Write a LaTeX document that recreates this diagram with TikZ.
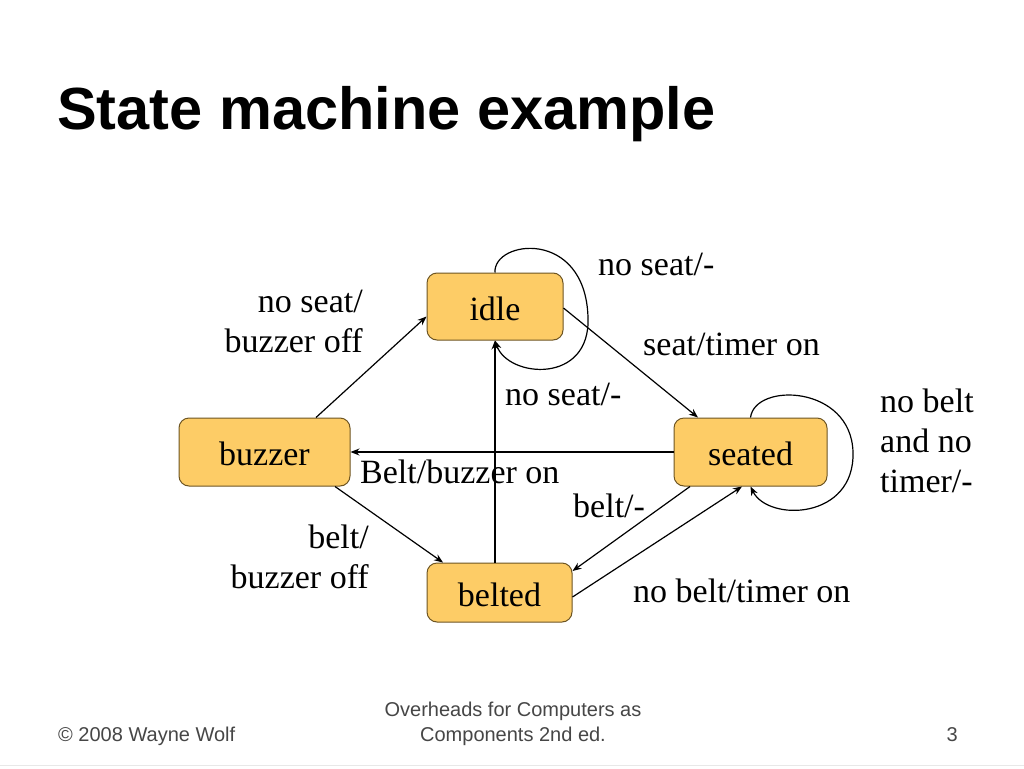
\documentclass[tikz,border=0pt]{standalone}
\usepackage{fontspec}
\setmainfont{Liberation Serif}
\newfontfamily\arialfont{Liberation Sans}
\usetikzlibrary{arrows.meta,calc}
\definecolor{statefill}{RGB}{253,204,102}
\definecolor{stateborder}{RGB}{110,85,35}
\definecolor{footgrey}{RGB}{70,70,70}
\definecolor{footline}{RGB}{232,232,232}
\begin{document}
\begin{tikzpicture}[x=1pt,y=-1pt,
  statebox/.style={draw=stateborder,fill=statefill,rounded corners=10pt,line width=1pt,
    inner sep=0pt,font=\fontsize{34}{40}\selectfont},
  lbl/.style={inner sep=0pt,font=\fontsize{34}{40}\selectfont},
  foot/.style={inner sep=0pt,font=\arialfont\fontsize{20}{25}\selectfont,text=footgrey},
  conn/.style={line width=1.2pt,-{Stealth[length=9pt,width=7pt]}}]
\useasboundingbox[fill=white] (0,0) rectangle (1024,768);
% title
\node[inner sep=0pt,anchor=base west,font=\arialfont\bfseries\fontsize{59.5}{70}\selectfont] (title) at (57,129) {State machine example};
% states
\node[statebox,minimum width=136pt,minimum height=67pt] (idle) at (495,306.5) {};
\node[lbl,anchor=base] (idletxt) at (495,320.5) {idle};
\node[statebox,minimum width=153pt,minimum height=68pt] (seated) at (750.5,452) {};
\node[lbl,anchor=base] (seatedtxt) at (750.5,465.5) {seated};
\node[statebox,minimum width=171pt,minimum height=68pt] (buzzer) at (264.5,452) {};
\node[lbl,anchor=base] (buzzertxt) at (264.5,465.5) {buzzer};
\node[statebox,minimum width=145pt,minimum height=59pt] (belted) at (499.5,592.5) {};
\node[lbl,anchor=base] (beltedtxt) at (499.5,606.5) {belted};
% connectors
\draw[conn] ([xshift=51.5pt]buzzer.north) -- ([yshift=-10pt]idle.west);
\draw[conn] ([yshift=-1.5pt]idle.east) -- ([xshift=-52.5pt]seated.north);
\draw[conn] (idle.north) .. controls (493,240) and (585,228) .. (588,317)
  .. controls (591,385) and (508,378) .. (idle.south);
\draw[conn] (seated.west) -- (buzzer.east);
\draw[conn] (belted.north -| idle.south) -- (idle.south);
\draw[conn] ([xshift=70.5pt]buzzer.south) -- ([xshift=-56.5pt]belted.north);
\draw[conn] ([xshift=-60.5pt]seated.south) -- ([yshift=21.5pt]belted.east);
\draw[conn] ([yshift=-4.5pt]belted.east) -- ([xshift=-8.5pt]seated.south);
\draw[conn] (seated.north) .. controls (755,382) and (851,385) .. (853,452)
  .. controls (855,520) and (768,522) .. (seated.south);
% labels
\node[lbl,anchor=north east,align=right] (l1) at (363,290) {no seat/\\buzzer off};
\node[lbl,anchor=base west] (l2) at (598,275.5) {no seat/-};
\node[lbl,anchor=base west] (l3) at (643,355.5) {seat/timer on};
\node[lbl,anchor=base west] (l4) at (505,405.5) {no seat/-};
\node[lbl,anchor=base west] (l5) at (360,483.5) {Belt/buzzer on};
\node[lbl,anchor=base west] (l6) at (573,517.5) {belt/-};
\node[lbl,anchor=north east,align=right] (l7) at (369,525) {belt/\\buzzer off};
\node[lbl,anchor=base west] (l8) at (633,602.5) {no belt/timer on};
\node[lbl,anchor=north west,align=left] (l9) at (880,389) {no belt\\and no\\timer/-};
% footer
\node[foot,anchor=base west] (f1) at (58,741) {© 2008 Wayne Wolf};
\node[foot,anchor=base,align=center] (f2) at (513,716) {Overheads for Computers as};
\node[foot,anchor=base] (f3) at (513,741) {Components 2nd ed.};
\node[foot,anchor=base east] (f4) at (958,741) {3};
\draw[footline,line width=1.5pt] (0,765.5) -- (1024,765.5);
\end{tikzpicture}
\end{document}
